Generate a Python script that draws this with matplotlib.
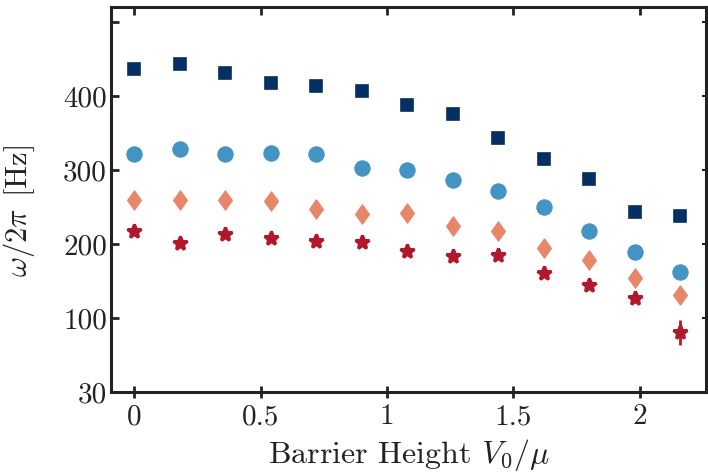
import matplotlib
matplotlib.use('Agg')
import matplotlib.pyplot as plt
from matplotlib.path import Path

# barrier heights V0/mu
barrier = [0, 0.18, 0.36, 0.54, 0.72, 0.9, 1.08, 1.26, 1.44, 1.62, 1.8, 1.98, 2.16]

# frequencies omega/2pi [Hz], four series
freq_sq = [436, 443, 431, 418, 414, 407, 388, 376, 343, 315, 288, 243, 238]
err_sq = [2, 2, 2, 2, 2, 2, 2, 2, 2, 2, 2, 6, 2]
freq_circ = [321, 328, 322, 323, 321, 303, 300, 287, 272, 250, 218, 189, 162]
freq_dia = [259, 259, 259, 258, 247, 241, 242, 224, 218, 195, 178, 154, 131]
freq_star = [217, 201, 213, 208, 204, 203, 191, 184, 185, 161, 144, 127, 81]
err_star = [2, 2, 2, 2, 2, 2, 2, 2, 2, 2, 2, 2, 17]

yticks = [0, 100, 200, 300, 400, 500]
ytick_labels = ['30', '100', '200', '300', '400', '']
xticks = [0, 0.5, 1, 1.5, 2]
xtick_labels = ['0', '0.5', '1', '1.5', '2']

plt.rcParams['font.family'] = 'serif'
plt.rcParams['font.serif'] = ['cmr10']
plt.rcParams['mathtext.fontset'] = 'cm'
plt.rcParams['axes.formatter.use_mathtext'] = True

fig = plt.figure(figsize=(7.08, 4.73), dpi=100)
ax = fig.add_axes([0.157, 0.171, 0.840, 0.814])

diamond = Path([(0, 1), (0.72, 0), (0, -1), (-0.72, 0), (0, 1)],
               [Path.MOVETO, Path.LINETO, Path.LINETO, Path.LINETO, Path.CLOSEPOLY])

kw = dict(linestyle='none', capsize=0, elinewidth=2)
ax.errorbar(barrier, freq_sq, yerr=err_sq, fmt='s', color='#053061',
            markersize=9, markeredgewidth=1.2, **kw)
ax.errorbar(barrier, freq_circ, yerr=2, fmt='o', color='#4393c3',
            markersize=11, markeredgewidth=0.8, **kw)
ax.errorbar(barrier, freq_dia, yerr=2, fmt='none', color='#e8866a', elinewidth=2)
ax.plot(barrier, freq_dia, linestyle='none', marker=diamond, color='#e8866a',
        markersize=14, markeredgewidth=0.8)
ax.errorbar(barrier, freq_star, yerr=err_star, fmt='*', color='#b2182b',
            markersize=10.5, markeredgewidth=2.2, **kw)
for ln in ax.lines:
    ln.set_solid_joinstyle('round')
    ln.set_markeredgecolor(ln.get_markerfacecolor())

ax.set_xlim(-0.091, 2.262)
ax.set_ylim(0, 520)
ax.set_xticks(xticks)
ax.set_xticklabels(xtick_labels)
ax.set_yticks(yticks)
ax.set_yticklabels(ytick_labels)

for s in ax.spines.values():
    s.set_linewidth(2.2)
    s.set_color('#222222')

ax.tick_params(axis='x', direction='inout', length=9, width=2, labelsize=21,
               color='#222222', labelcolor='#222222', pad=4)
ax.tick_params(axis='y', direction='in', length=6, width=2, labelsize=21,
               color='#222222', labelcolor='#222222', pad=3)

top = ax.secondary_xaxis('top')
top.set_xticks(xticks)
top.tick_params(direction='in', length=6, width=2, labeltop=False, color='#222222')
right = ax.secondary_yaxis('right')
right.set_yticks(yticks)
right.tick_params(direction='in', length=3, width=1.5, labelright=False, color='#222222')

ax.set_xlabel(r'Barrier Height $V_0/\mu$', fontsize=23, color='#222222', labelpad=5)
ax.set_ylabel(r'$\omega/2\pi\ \,[\mathrm{Hz}]$', fontsize=22, color='#222222', labelpad=5)
ax.yaxis.set_label_coords(-0.125, 0.47)

fig.savefig('out.png', dpi=100)
